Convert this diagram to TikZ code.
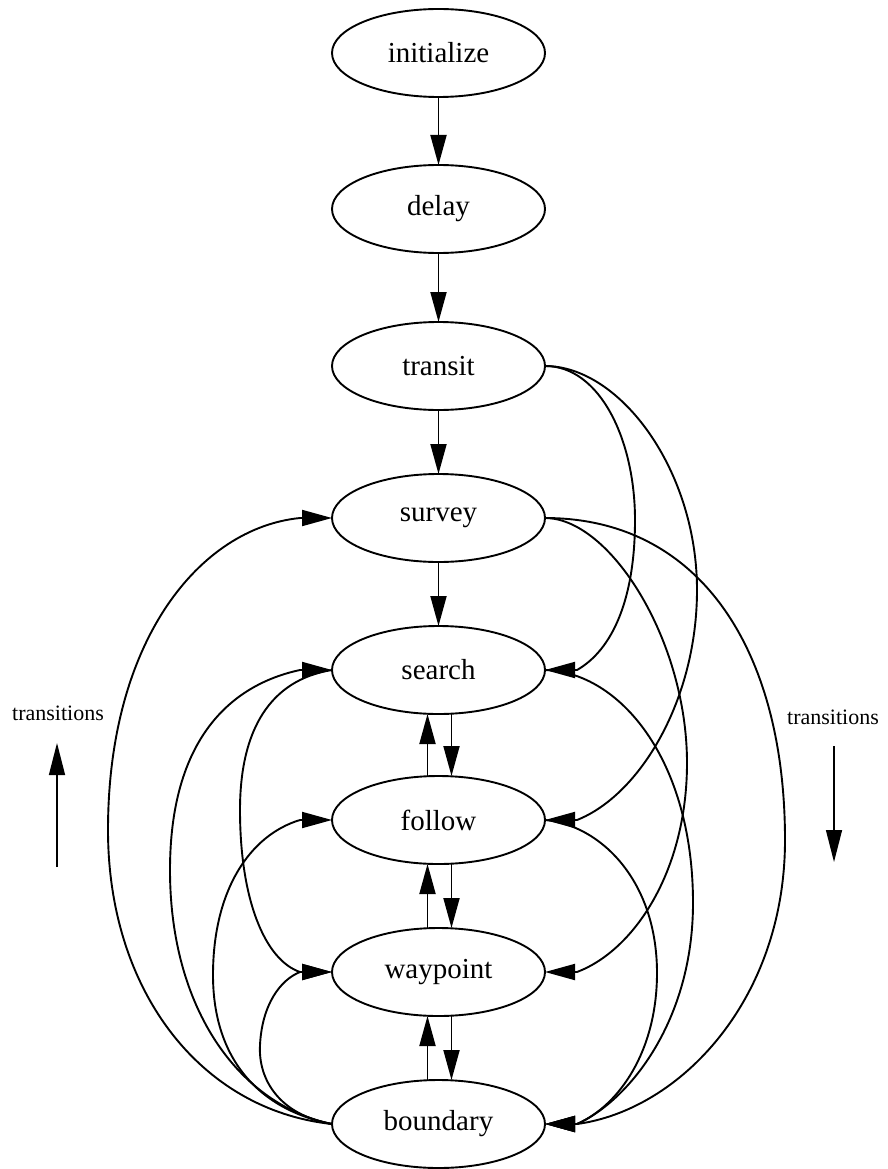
\documentclass[tikz,border=0pt]{standalone}
\usepackage{fontspec}
\setmainfont{Liberation Serif}
\usetikzlibrary{shapes.geometric,arrows.meta}
\begin{document}
\begin{tikzpicture}[x=1pt,y=-1pt,
  state/.style={ellipse,draw,line width=1.9pt,minimum width=213pt,minimum height=88pt,inner sep=0pt,outer sep=0pt,font=\fontsize{29}{34}\selectfont},
  arr/.style={line width=1.9pt,-{Triangle[length=30pt,width=16pt]}},
  thinarr/.style={line width=1.4pt,-{Triangle[length=32pt,width=16pt]}},
  note/.style={font=\fontsize{22}{26}\selectfont}]
\useasboundingbox (0,0) rectangle (887,1169);
% states
\node[state] (initialize) at (438.5,53) {initialize};
\node[state] (delay) at (438.5,209) {delay};
\node[state] (transit) at (438.5,366) {transit};
\node[state] (survey) at (438.5,518) {survey};
\node[state] (search) at (438.5,670) {search};
\node[state] (follow) at (438.5,820) {follow};
\node[state] (waypoint) at (438.5,972) {waypoint};
\node[state] (boundary) at (438.5,1124) {boundary};
% straight chain
\draw[arr] (initialize) -- (delay);
\draw[arr] (delay) -- (transit);
\draw[arr] (transit) -- (survey);
\draw[arr] (survey) -- (search);
% vertical pairs
\draw[arr] ([xshift=-11pt]follow.north) -- ([xshift=-11pt]search.south);
\draw[arr] ([xshift=13pt]search.south) -- ([xshift=13pt]follow.north);
\draw[arr] ([xshift=-11pt]waypoint.north) -- ([xshift=-11pt]follow.south);
\draw[arr] ([xshift=13pt]follow.south) -- ([xshift=13pt]waypoint.north);
\draw[arr] ([xshift=-11pt]boundary.north) -- ([xshift=-11pt]waypoint.south);
\draw[arr] ([xshift=13pt]waypoint.south) -- ([xshift=13pt]boundary.north);
% right side (downward transitions)
\draw[arr] (transit.east) .. controls (600,366) and (635,440) .. (635,520) .. controls (635,600) and (612,650) .. ([xshift=32pt]search.east) -- (search.east);
\draw[arr] (transit.east) .. controls (620,366) and (697,470) .. (697,590) .. controls (697,700) and (640,795) .. ([xshift=32pt]follow.east) -- (follow.east);
\draw[arr] (survey.east) .. controls (610,518) and (687,640) .. (687,763) .. controls (687,870) and (635,950) .. ([xshift=32pt]waypoint.east) -- (waypoint.east);
\draw[arr] (survey.east) .. controls (700,518) and (785,650) .. (785,840) .. controls (785,1000) and (680,1110) .. ([xshift=32pt]boundary.east) -- (boundary.east);
\draw[arr] (search.east) .. controls (620,672) and (693,760) .. (693,903) .. controls (693,1020) and (630,1100) .. ([xshift=32pt]boundary.east) -- (boundary.east);
\draw[arr] (follow.east) .. controls (600,825) and (657,880) .. (657,973) .. controls (657,1050) and (620,1105) .. ([xshift=32pt]boundary.east) -- (boundary.east);
% left side (upward transitions)
\draw[arr] (boundary.west) .. controls (200,1110) and (108,990) .. (108,830) .. controls (108,640) and (200,528) .. ([xshift=-32pt]survey.west) -- (survey.west);
\draw[arr] (boundary.west) .. controls (240,1105) and (170,1010) .. (170,870) .. controls (170,740) and (230,685) .. ([xshift=-32pt]search.west) -- (search.west);
\draw[arr] (search.west) .. controls (270,680) and (240,730) .. (240,810) .. controls (240,900) and (265,960) .. ([xshift=-32pt]waypoint.west) -- (waypoint.west);
\draw[arr] (boundary.west) .. controls (260,1110) and (213,1060) .. (213,975) .. controls (213,890) and (250,835) .. ([xshift=-32pt]follow.west) -- (follow.west);
\draw[arr] (boundary.west) .. controls (280,1115) and (258,1080) .. (260,1045) .. controls (262,1005) and (280,980) .. ([xshift=-32pt]waypoint.west) -- (waypoint.west);
% legend arrows
\node[note] (tl) at (58,713) {transitions};
\coordinate (tla) at (57,867);
\coordinate (tlb) at (57,743);
\draw[thinarr] (tla) -- (tlb);
\node[note] (tr) at (833,717) {transitions};
\coordinate (tra) at (834,746);
\coordinate (trb) at (834,862);
\draw[thinarr] (tra) -- (trb);
\end{tikzpicture}
\end{document}
